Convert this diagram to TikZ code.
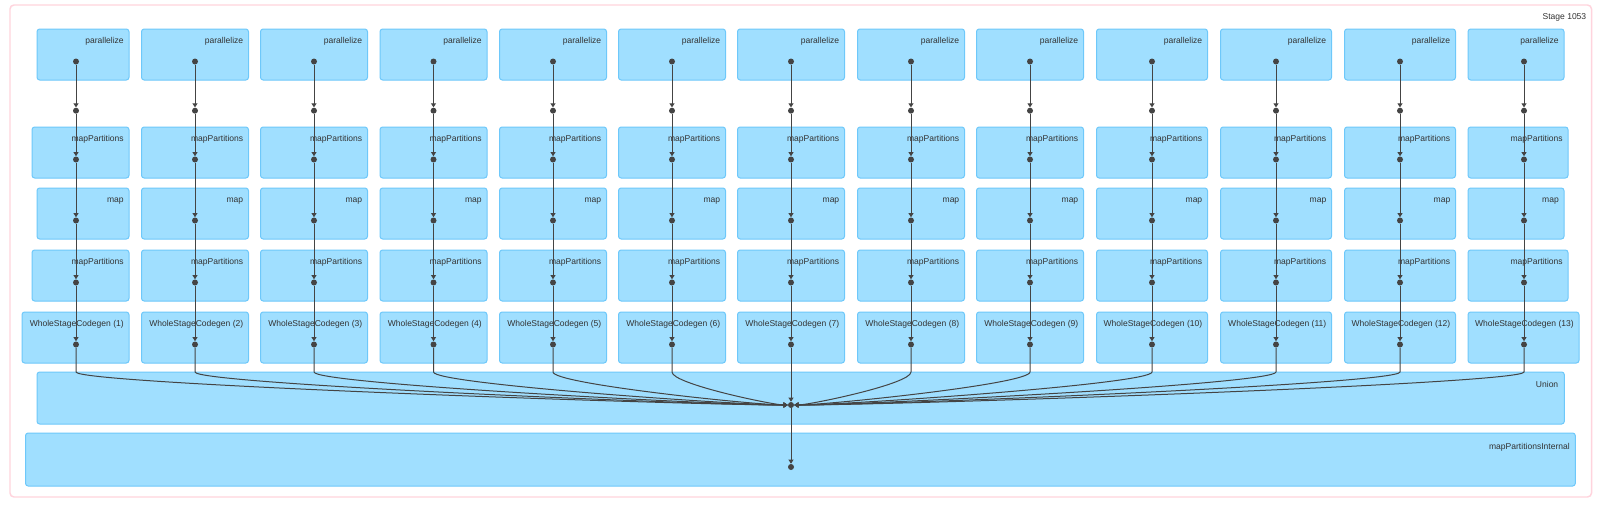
\documentclass[tikz,border=0pt]{standalone}
\usepackage{fontspec}
\setmainfont{Liberation Sans}
\usetikzlibrary{arrows.meta}
\definecolor{boxfill}{RGB}{160,223,255}
\definecolor{boxline}{RGB}{110,200,250}
\definecolor{stageline}{RGB}{255,212,221}
\definecolor{dotgray}{RGB}{68,68,68}
\definecolor{textgray}{RGB}{51,51,51}
\begin{document}
\begin{tikzpicture}[x=0.75pt, y=-0.75pt, font=\fontsize{6.4}{7.7}\selectfont]
\tikzstyle{box} = [draw=boxline, fill=boxfill, line width=0.75pt, rounded corners=2pt]
\tikzstyle{dot} = [circle, fill=dotgray, inner sep=0pt, minimum size=4.5pt]
\tikzstyle{lbl} = [anchor=base east, inner sep=0pt, text=textgray]
\tikzstyle{edge} = [draw=dotgray, line width=0.75pt, -{Triangle[length=3pt, width=3.6pt]}]
\fill[white] (0,0) rectangle (1603,507);
\useasboundingbox (0,0) rectangle (1603,507);
\draw[stageline, line width=1.1pt, rounded corners=3pt, fill=white] (10,5) rectangle (1591.5,497);
\node[lbl] (stage) at (1586.5,19) {Stage 1053};
\foreach \lab/\y/\wa/\wb [count=\row] in {parallelize/29/92/96, mapPartitions/127/97/100, map/188/92/96, mapPartitions/250/97/100, WholeStageCodegen/312/107/111}
\foreach \x [count=\col] in {76,195,314,433.5,553,672,791,911,1030,1152,1276,1400,1524} {
  \pgfmathsetmacro\hw{\col<10 ? 53.5 : 55.5}
  \pgfmathsetmacro\lft{\col==1 ? 129-\wa : (\col==13 ? 1468 : \x-\hw)}
  \pgfmathsetmacro\rgt{\col==1 ? 129 : (\col==13 ? 1468+\wb : \x+\hw)}
  \draw[box] (\lft,\y) rectangle (\rgt,\y+51);
  \node[lbl] (t\row-\col) at (\rgt-5,\y+14) {\lab\ifnum\row=5\ (\col)\fi};
  \node[dot] (n\row-\col) at (\x,\y+32.5) {};
}
\foreach \x [count=\col] in {76,195,314,433.5,553,672,791,911,1030,1152,1276,1400,1524}
  \node[dot] (m\col) at (\x,110.7) {};
\draw[box] (37,372) rectangle (1564.3,424);
\node[lbl] (tu) at (1558.5,387) {Union};
\node[dot] (u) at (791,405) {};
\draw[box] (25.5,433) rectangle (1575.3,486);
\node[lbl] (tmpi) at (1570,449) {mapPartitionsInternal};
\node[dot] (mpi) at (791,467) {};
\foreach \x [count=\col] in {76,195,314,433.5,553,672,791,911,1030,1152,1276,1400,1524} {
  \draw[edge] (n1-\col) -- (m\col);
  \draw[edge] (m\col) -- (n2-\col);
  \foreach \from/\to in {2/3, 3/4, 4/5}
    \draw[edge] (n\from-\col) -- (n\to-\col);
  \pgfmathsetmacro\ex{\x+0.85*(791-\x)}
  \ifnum\col=7
    \draw[edge] (n5-\col) -- (u);
  \else
    \draw[edge] (n5-\col) -- (\x,372) .. controls (\x,384) and (\ex,405) .. (u);
  \fi
}
\draw[edge] (u) -- (mpi);
\end{tikzpicture}
\end{document}
